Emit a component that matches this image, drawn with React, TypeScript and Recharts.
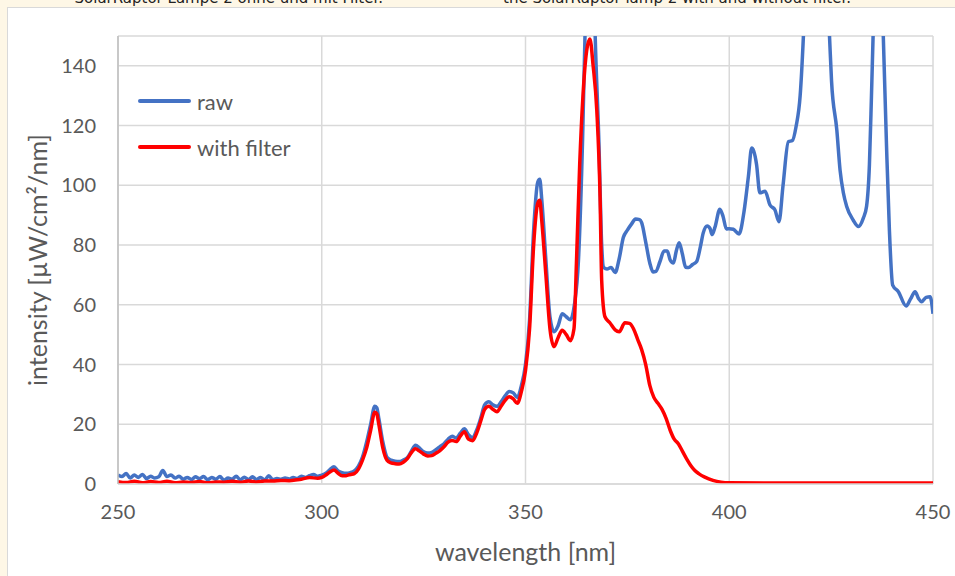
import { CartesianGrid, Label, Legend, Line, LineChart, XAxis, YAxis } from 'recharts'

// Spektrum SolarRaptor Lampe 2 – raw vs. with filter
const rawWl = [
  250, 251, 252, 253, 254, 255, 256, 257, 258, 259, 260, 261, 262, 263, 264, 265, 266, 267, 268, 269,
  270, 271, 272, 273, 274, 275, 276, 277, 278, 279, 280, 281, 282, 283, 284, 285, 286, 287, 288, 289,
  290, 291, 292, 293, 294, 295, 296, 297, 298, 299, 300, 301, 302, 303, 304, 305, 306, 307, 308, 309,
  310, 311, 312, 313, 313.5, 314, 315, 316, 317, 318, 319, 320, 321, 322, 323, 324, 325, 326, 327, 328,
  329, 330, 331, 332, 333, 334, 335, 336, 337, 338, 339, 340, 341, 342, 343, 344, 345, 346, 347, 348,
  349, 350, 351, 352, 353, 353.5, 354, 355, 356, 357, 358, 359, 360, 361, 362, 363, 364, 364.6, 365.5,
  366.5, 367.1, 368, 368.7, 369.2, 370, 371, 372, 373, 374, 375, 376, 377, 378, 378.5, 379.5, 380.5,
  381.3, 382, 383, 384, 384.8, 385.5, 386.3, 387, 387.7, 388.5, 389.3, 390, 391, 392, 393, 393.6, 394.6,
  395.3, 395.8, 396.5, 397.7, 398.5, 399.3, 400, 401, 402.4, 403.6, 404.7, 405.5, 406, 406.7, 407.5,
  408.8, 410, 411.2, 412.2, 413.2, 414.5, 415.5, 416.4, 417.4, 418.2, 419.5, 421, 422.5, 424.6, 425.1,
  426.4, 427.2, 428, 428.8, 430.4, 431.7, 432.9, 433.7, 434.4, 434.9, 435.3, 436.5, 437.8, 438.6, 439.3,
  440.1, 441.5, 443.4, 444.5, 445.6, 446.5, 447.2, 448.3, 449.3, 450,
]
const rawVal = [
  3, 2.5, 3.5, 2, 3, 2.2, 3.2, 1.8, 2.6, 2, 2.4, 4.5, 2.5, 3, 2, 2.6, 1.6, 2.2, 1.5, 2.4,
  1.8, 2.5, 1.4, 2.2, 1.6, 2.5, 1.3, 2, 1.6, 2.6, 1.4, 2.3, 1.5, 2.4, 1.5, 2.2, 1.3, 2.8, 1.4, 1.8,
  1.6, 2, 1.7, 2.2, 1.8, 2.6, 2.2, 2.8, 3.2, 2.6, 3, 3.6, 4.8, 5.8, 4.4, 3.8, 3.6, 3.8, 4.4, 6,
  9, 14, 20, 26, 25.5, 22, 14, 9, 8, 7.6, 7.5, 8, 8.8, 11, 13, 12, 10.8, 10.4, 10.6, 11.5,
  12.5, 13.5, 15, 16, 15.4, 17, 18.5, 16.5, 15.5, 18, 22, 26.5, 27.5, 26.5, 26, 27.5, 29.5, 31, 30.5, 29,
  33, 40, 55, 85, 101, 102, 95, 75, 56, 51, 53, 57, 56, 55, 60, 75, 115, 150, 185,
  185, 150, 115, 80, 72.5, 72, 72.5, 70.8, 75.5, 82.5, 85, 87, 88.7, 88.5, 87.5, 81, 74,
  71, 71.2, 74.5, 78, 78, 75, 74, 78, 80.8, 77, 72.6, 72.5, 73.5, 74.5, 80, 84, 86.4,
  85.5, 83.5, 86, 92, 89.5, 85.4, 85.5, 85.3, 83.7, 91, 103, 112.5, 111.5, 107, 97.5,
  98, 93.4, 91.8, 87.8, 100, 114.6, 115, 119.7, 130, 150, 200, 230, 200, 150, 135,
  118.5, 105, 97.5, 93, 88.4, 86.2, 89, 93, 107, 130, 150, 200, 150, 113, 85,
  66.6, 64.4, 59.6, 62, 64.4, 62, 61, 62.5, 62.7, 57,
]

const filterWl = [
  250, 252, 254, 256, 258, 260, 262, 264, 266, 268, 270, 272, 274, 276, 278, 280, 282, 284, 286, 288,
  290, 292, 294, 295, 297, 299, 300, 301, 302, 303, 304, 305, 306, 307, 308, 309, 310, 311, 312, 313,
  313.5, 314, 315, 316, 317, 318, 319, 320, 321, 322, 323, 324, 325, 326, 327, 328, 329, 330, 331, 332,
  333, 334, 335, 336, 337, 338, 339, 340, 341, 342, 343, 344, 345, 346, 347, 348, 349, 350, 351, 352,
  353, 353.5, 354, 355, 356, 357, 358, 359, 360, 361, 361.9, 362.5, 363.3, 364.1, 365, 365.8, 366.6,
  367.5, 368.3, 368.7, 369.5, 370.7, 372, 373, 374.4, 375.5, 376.5, 377.5, 378.5, 379.5, 380.5, 381.5,
  382.5, 383.5, 384.5, 385.5, 386.5, 387.5, 388.5, 389.5, 390.5, 391.5, 392.5, 394, 396, 398, 400,
  410, 420, 430, 440, 450,
]
const filterVal = [
  0.8, 0.5, 0.9, 0.4, 0.8, 0.5, 0.9, 0.4, 0.7, 0.5, 0.8, 0.4, 0.7, 0.6, 0.9, 0.6, 1, 0.7, 1, 1,
  1.2, 1.1, 1.4, 1.6, 2.2, 1.9, 2.2, 3, 4, 4.7, 3.6, 2.8, 2.8, 3.2, 3.5, 5, 8, 12, 18, 24,
  23.5, 20, 12, 8, 7.1, 6.8, 6.7, 7.3, 8.5, 10.5, 11.8, 11, 10, 9.4, 9.5, 10.3, 11.2, 12.5, 14, 14.6,
  14.2, 16, 17.5, 15, 14.5, 17, 21, 25, 26, 25, 24.2, 26, 28, 29.2, 28.5, 27, 31, 38, 52, 80,
  94, 95, 88, 70, 52, 46, 49, 51.5, 50, 48, 52, 74, 107, 130, 145, 149, 140,
  125, 96, 68, 56, 54, 51.6, 51, 54, 53.8, 52, 48.5, 45, 40, 33, 29,
  27, 25, 22, 18, 15, 13.5, 11, 8.5, 6.3, 4.6, 3.5, 2.3, 1.2, 0.6, 0.4,
  0.3, 0.3, 0.3, 0.3, 0.3,
]

const xTicks = [250, 300, 350, 400, 450]
const yTicks = [0, 20, 40, 60, 80, 100, 120, 140]

const seriesNames = ['raw', 'with filter']
const RAW = '#4472C4'
const FILT = '#FF0000'
const TEXT = '#595959'
const FONT = 'Lato, "Open Sans", sans-serif'

const rawData = rawWl.map((x, i) => ({ x, y: rawVal[i] }))
const filterData = filterWl.map((x, i) => ({ x, y: filterVal[i] }))

function LegendBox() {
  const colors = [RAW, FILT]
  return (
    <div>
      {seriesNames.map((n, i) => (
        <div key={n} style={{ display: 'flex', alignItems: 'center', height: 46 }}>
          <div style={{ width: 53, height: 3.5, borderRadius: 2, background: colors[i] }} />
          <span style={{ marginLeft: 6, fontSize: 22, color: TEXT, fontFamily: FONT }}>{n}</span>
        </div>
      ))}
    </div>
  )
}

const topText = {
  position: 'absolute' as const,
  top: -9,
  fontFamily: '"DejaVu Sans", sans-serif',
  fontSize: 15,
  lineHeight: '15px',
  whiteSpace: 'nowrap' as const,
  color: '#222',
}

export default function App() {
  return (
    <div style={{ position: 'fixed', inset: 0, background: '#FEF7E6', overflow: 'hidden' }}>
      <div style={{ ...topText, right: 572 }}>SolarRaptor Lampe 2 ohne und mit Filter.</div>
      <div style={{ ...topText, left: 503 }}>the SolarRaptor lamp 2 with and without filter.</div>
      <div
        style={{
          position: 'absolute',
          left: 7,
          top: 7,
          width: 960,
          height: 580,
          background: '#fff',
          border: '1px solid #D9D9D9',
          boxSizing: 'border-box',
        }}
      >
        <LineChart
          width={947}
          height={568}
          margin={{ top: 28, right: 22, bottom: 0, left: 0 }}
          style={{ fontFamily: FONT }}
        >
          <CartesianGrid stroke="#D9D9D9" strokeWidth={1.5} />
          <XAxis
            dataKey="x"
            type="number"
            domain={[250, 450]}
            ticks={xTicks}
            allowDataOverflow
            height={92}
            tickSize={0}
            tickMargin={21}
            tick={{ fill: TEXT, fontSize: 20 }}
            axisLine={{ stroke: '#D9D9D9', strokeWidth: 1.5 }}
          >
            <Label
              value="wavelength [nm]"
              position="insideBottom"
              offset={15}
              style={{ fill: TEXT, fontSize: 25 }}
            />
          </XAxis>
          <YAxis
            type="number"
            domain={[0, 150]}
            ticks={yTicks}
            allowDataOverflow
            width={110}
            tickSize={0}
            tickMargin={22}
            tick={{ fill: TEXT, fontSize: 20 }}
            axisLine={{ stroke: '#BFBFBF', strokeWidth: 1.5 }}
          >
            <Label
              value="intensity [µW/cm²/nm]"
              angle={-90}
              position="insideLeft"
              offset={30}
              style={{ fill: TEXT, fontSize: 25, textAnchor: 'middle' }}
            />
          </YAxis>
          <Legend
            verticalAlign="middle"
            align="center"
            layout="horizontal"
            wrapperStyle={{ left: 130, top: 70, width: 'auto' }}
            content={() => <LegendBox />}
          />
          <Line
            data={rawData}
            dataKey="y"
            name={seriesNames[0]}
            type="monotone"
            stroke={RAW}
            strokeWidth={3.5}
            dot={false}
            isAnimationActive={false}
          />
          <Line
            data={filterData}
            dataKey="y"
            name={seriesNames[1]}
            type="monotone"
            stroke={FILT}
            strokeWidth={3.5}
            dot={false}
            isAnimationActive={false}
          />
        </LineChart>
      </div>
    </div>
  )
}
